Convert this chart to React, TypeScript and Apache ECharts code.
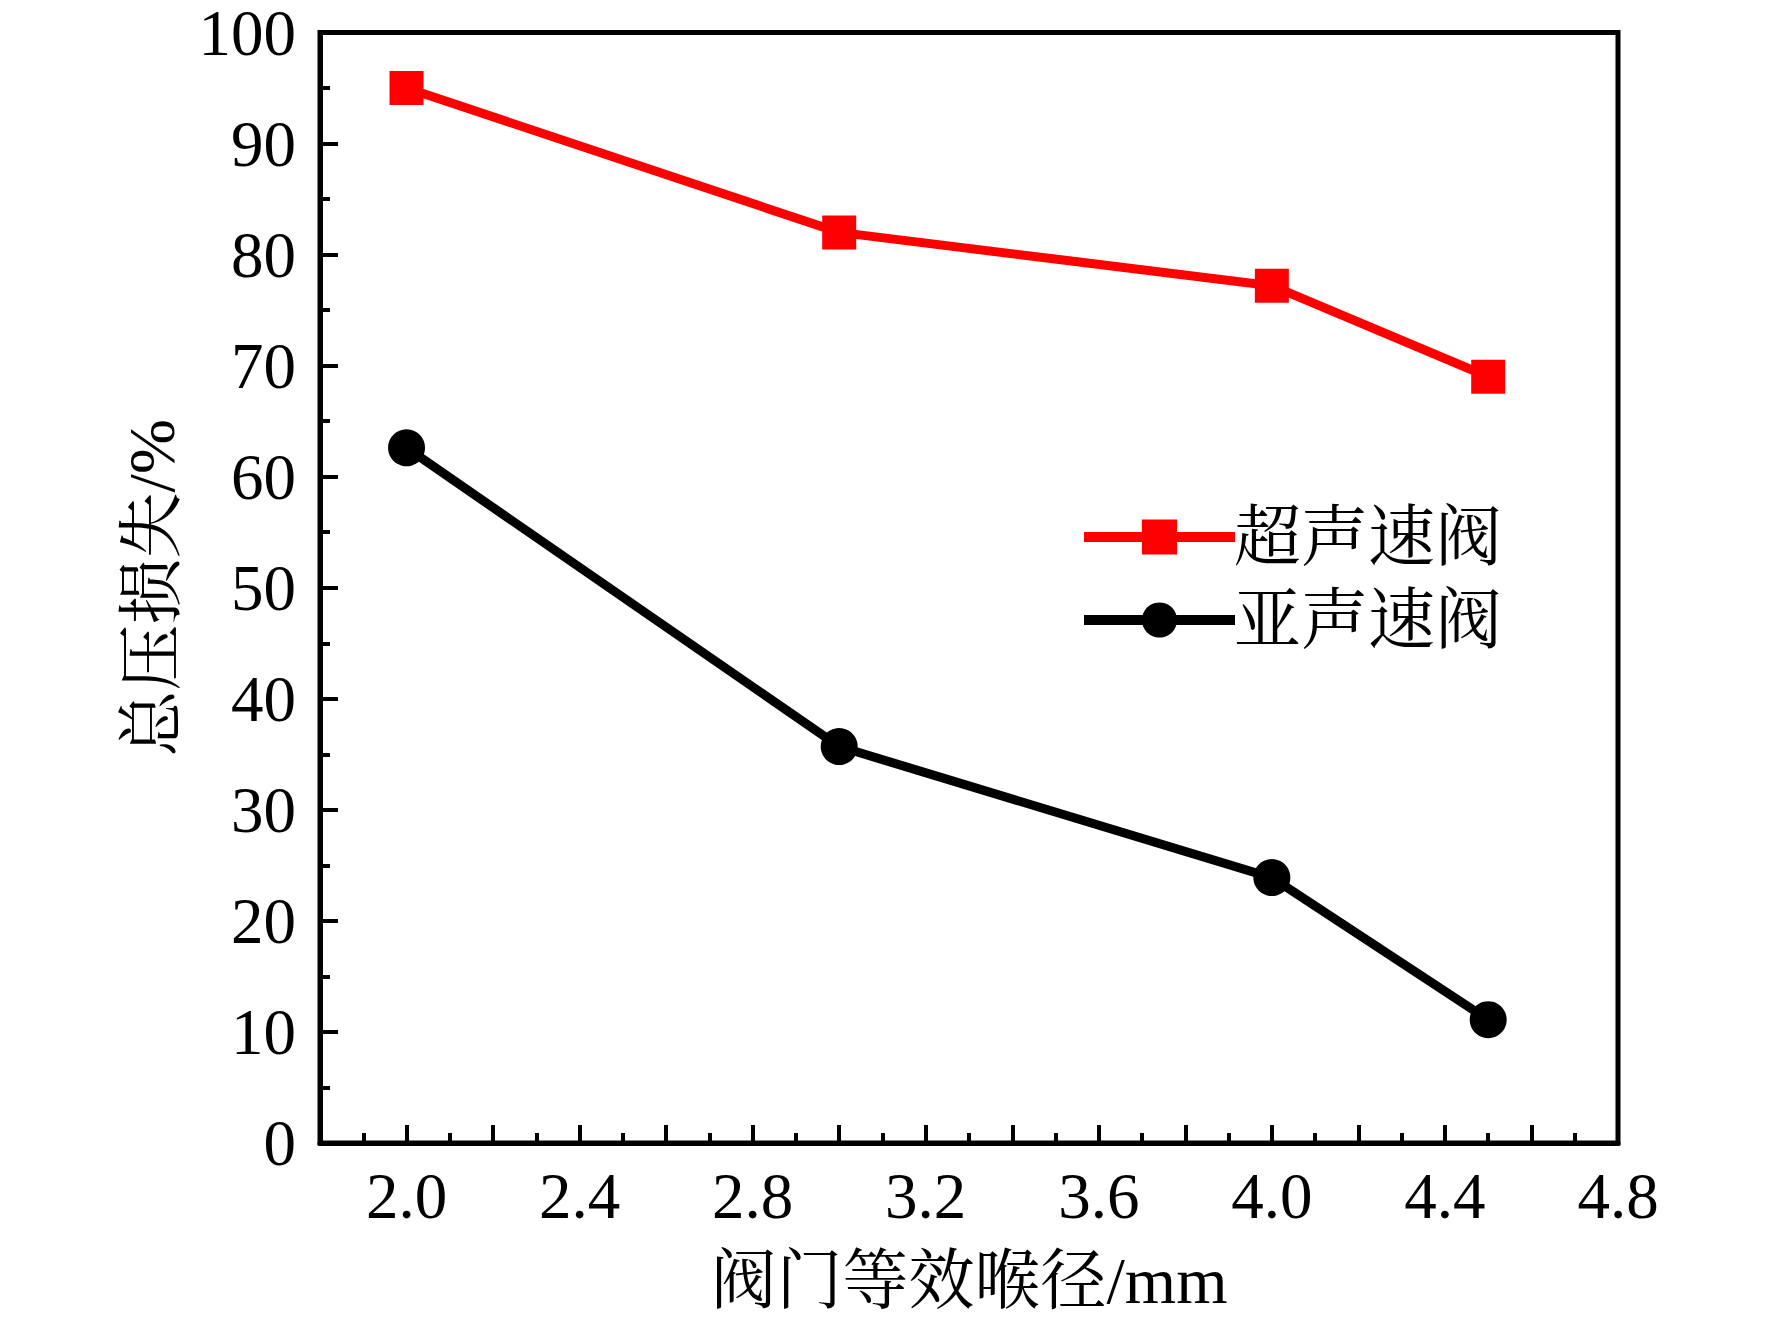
import React, { useEffect, useRef } from "react";
import * as echarts from "echarts";

const xValues = [2.0, 3.0, 4.0, 4.5];
const supersonic = [95.0, 82.0, 77.2, 69.0];
const subsonic = [62.6, 35.7, 23.9, 11.1];
const seriesNames = ["超声速阀", "亚声速阀"];
const xAxisTitle = "阀门等效喉径/mm";
const yAxisTitle = "总压损失/%";

const FONT = "'Liberation Serif', 'Times New Roman', 'Noto Serif CJK SC', 'Noto Sans CJK SC', serif";

export default function App() {
  const ref = useRef<HTMLDivElement>(null);
  useEffect(() => {
    if (!ref.current) return;
    const chart = echarts.init(ref.current, undefined, { renderer: "svg" });
    const toPairs = (ys: number[]) => xValues.map((x, i) => [x, ys[i]]);
    chart.setOption({
      animation: false,
      backgroundColor: "#ffffff",
      grid: {
        left: 320,
        top: 32,
        right: 154,
        bottom: 179,
        show: true,
        borderColor: "#000",
        borderWidth: 5,
        backgroundColor: "transparent",
      },
      legend: {
        orient: "vertical",
        left: 1074,
        top: 497,
        itemWidth: 151,
        itemHeight: 44,
        itemGap: 13,
        lineStyle: { width: 10 },
        textStyle: { fontFamily: FONT, fontSize: 67, color: "#000", lineHeight: 70, padding: [0, 0, 0, -6] },
        data: seriesNames,
      },
      xAxis: {
        type: "value",
        min: 1.8,
        max: 4.8,
        interval: 0.2,
        name: xAxisTitle,
        nameLocation: "middle",
        nameGap: 104,
        nameTextStyle: { fontFamily: FONT, fontSize: 66, color: "#000" },
        axisLine: { show: true, lineStyle: { color: "#000", width: 5 } },
        axisTick: { show: true, inside: true, length: 18, lineStyle: { color: "#000", width: 4 } },
        minorTick: { show: true, splitNumber: 2, length: 10, lineStyle: { color: "#000", width: 4 } },
        splitLine: { show: false },
        minorSplitLine: { show: false },
        axisLabel: {
          fontFamily: FONT,
          fontSize: 65,
          color: "#000",
          margin: 20,
          showMinLabel: true,
          showMaxLabel: true,
          formatter: (v: number) => {
            const k = Math.round(v * 10);
            return k >= 20 && (k - 20) % 4 === 0 ? (k / 10).toFixed(1) : "";
          },
        },
      },
      yAxis: {
        type: "value",
        min: 0,
        max: 100,
        interval: 10,
        name: yAxisTitle,
        nameLocation: "middle",
        nameGap: 136,
        nameRotate: 90,
        nameTextStyle: { fontFamily: FONT, fontSize: 66, color: "#000" },
        axisLine: { show: true, lineStyle: { color: "#000", width: 5 } },
        axisTick: { show: true, inside: true, length: 18, lineStyle: { color: "#000", width: 4 } },
        minorTick: { show: true, splitNumber: 2, length: 10, lineStyle: { color: "#000", width: 4 } },
        splitLine: { show: false },
        minorSplitLine: { show: false },
        axisLabel: { fontFamily: FONT, fontSize: 65, color: "#000", margin: 24 },
      },
      series: [
        {
          name: seriesNames[0],
          type: "line",
          data: toPairs(supersonic),
          symbol: "rect",
          symbolSize: 34,
          itemStyle: { color: "#FF0000" },
          lineStyle: { color: "#FF0000", width: 9 },
          z: 3,
        },
        {
          name: seriesNames[1],
          type: "line",
          data: toPairs(subsonic),
          symbol: "circle",
          symbolSize: 37,
          itemStyle: { color: "#000000" },
          lineStyle: { color: "#000000", width: 9 },
          z: 3,
        },
      ],
    });
    return () => chart.dispose();
  }, []);
  return (
    <div
      ref={ref}
      style={{ position: "absolute", left: 0, top: 0, width: 1772, height: 1322, background: "#fff" }}
    />
  );
}
